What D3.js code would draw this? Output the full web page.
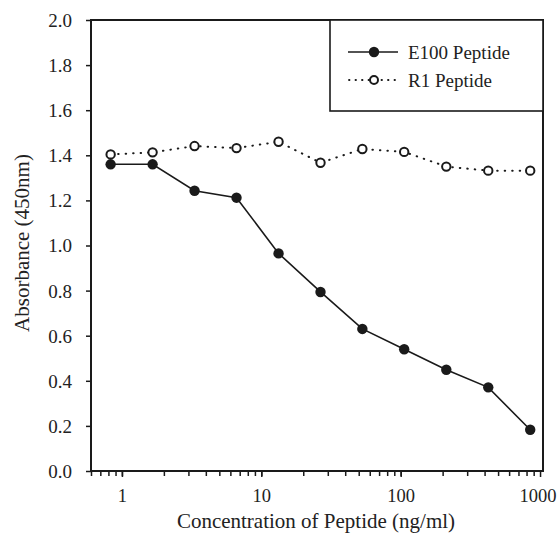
<!DOCTYPE html>
<html><head><meta charset="utf-8">
<script src="https://cdn.jsdelivr.net/npm/d3@7"></script>
<style>body{margin:0;background:#fff}svg{display:block}text{font-family:"Liberation Serif","Times New Roman",serif;fill:#222}</style>
</head><body><svg id="c" width="557" height="536"></svg>
<script>
const concentrations = [0.83, 1.66, 3.32, 6.64, 13.3, 26.6, 53.1, 106, 212.5, 425, 850];
const e100 = [1.36, 1.36, 1.243, 1.212, 0.965, 0.794, 0.63, 0.54, 0.449, 0.371, 0.183];
const r1 = [1.404, 1.413, 1.441, 1.432, 1.46, 1.367, 1.428, 1.415, 1.35, 1.332, 1.332];
const yTicks = [0, 0.2, 0.4, 0.6, 0.8, 1.0, 1.2, 1.4, 1.6, 1.8, 2.0];
const xMajor = [1, 10, 100, 1000];
const seriesNames = ["E100 Peptide", "R1 Peptide"];

const svg = d3.select("#c");
const L = 91, R = 543, T = 20, B = 471;
const x = d3.scaleLog().domain([0.6, 1050]).range([L, R]);
const y = d3.scaleLinear().domain([0, 2]).range([B, T]);
const col = "#1a1a1a";
const FONT = '"Liberation Serif","Times New Roman",serif';

// minor ticks
const minor = [];
for (let d = -1; d <= 2; d++) for (let k = 1; k <= 9; k++) {
  const v = k * Math.pow(10, d);
  if (v >= 0.6 && v <= 1000) minor.push(v);
}
svg.append("g").attr("transform", `translate(0,${B})`)
  .call(d3.axisBottom(x).tickValues(minor).tickSize(5).tickFormat(""))
  .call(g => { g.select(".domain").remove(); g.selectAll("line").attr("stroke", col).attr("stroke-width", 1.5); });
svg.append("g").attr("transform", `translate(0,${B})`)
  .call(d3.axisBottom(x).tickValues(xMajor).tickSize(6).tickPadding(12).tickFormat(d3.format("d")))
  .call(g => {
    g.select(".domain").remove();
    g.selectAll("line").attr("stroke", col).attr("stroke-width", 1.5);
    g.selectAll("text").attr("font-size", 18.5).attr("fill", col).style("font-family", FONT)
      .attr("dx", d => d === 1000 ? -2.5 : 0);
  });

svg.append("g").attr("transform", `translate(${L},0)`)
  .call(d3.axisLeft(y).tickValues(yTicks).tickSize(5).tickPadding(14).tickFormat(d3.format(".1f")))
  .call(g => {
    g.select(".domain").remove();
    g.selectAll("line").attr("stroke", col).attr("stroke-width", 1.5);
    g.selectAll("text").attr("font-size", 19).attr("fill", col).attr("dy", "0.34em").style("font-family", FONT);
  });

// frame
svg.append("rect").attr("x", L).attr("y", T).attr("width", R - L).attr("height", B - T)
  .attr("fill", "none").attr("stroke", col).attr("stroke-width", 2);

// legend box
svg.append("rect").attr("x", 330).attr("y", T).attr("width", R - 330).attr("height", 91)
  .attr("fill", "#fff").attr("stroke", col).attr("stroke-width", 1.6);

const line = d3.line().x((d, i) => x(concentrations[i])).y(d => y(d));
svg.append("path").datum(r1).attr("d", line).attr("fill", "none").attr("stroke", col)
  .attr("stroke-width", 2).attr("stroke-dasharray", "0.5,7").attr("stroke-linecap", "round");
svg.append("path").datum(e100).attr("d", line).attr("fill", "none").attr("stroke", col).attr("stroke-width", 1.6);

svg.append("g").selectAll("circle").data(r1).join("circle")
  .attr("cx", (d, i) => x(concentrations[i])).attr("cy", d => y(d)).attr("r", 4.2)
  .attr("fill", "#fff").attr("stroke", col).attr("stroke-width", 2);
svg.append("g").selectAll("circle").data(e100).join("circle")
  .attr("cx", (d, i) => x(concentrations[i])).attr("cy", d => y(d)).attr("r", 5.2)
  .attr("fill", col);

// legend items
const lg = svg.append("g");
lg.append("line").attr("x1", 348).attr("x2", 398).attr("y1", 52).attr("y2", 52).attr("stroke", col).attr("stroke-width", 1.6);
lg.append("circle").attr("cx", 374).attr("cy", 52).attr("r", 5.2).attr("fill", col);
lg.append("text").attr("x", 408).attr("y", 59).attr("font-size", 19).text(seriesNames[0]);
lg.append("line").attr("x1", 349).attr("x2", 398).attr("y1", 80).attr("y2", 80).attr("stroke", col)
  .attr("stroke-width", 1.8).attr("stroke-dasharray", "0.5,6").attr("stroke-linecap", "round");
lg.append("circle").attr("cx", 374).attr("cy", 80).attr("r", 4).attr("fill", "#fff").attr("stroke", col).attr("stroke-width", 2);
lg.append("text").attr("x", 408).attr("y", 87).attr("font-size", 19).text(seriesNames[1]);

// titles
svg.append("text").attr("x", 316).attr("y", 528).attr("text-anchor", "middle").attr("font-size", 21)
  .text("Concentration of Peptide (ng/ml)");
svg.append("text").attr("transform", "translate(29,243) rotate(-90)").attr("text-anchor", "middle").attr("font-size", 21)
  .text("Absorbance (450nm)");
</script></body></html>
